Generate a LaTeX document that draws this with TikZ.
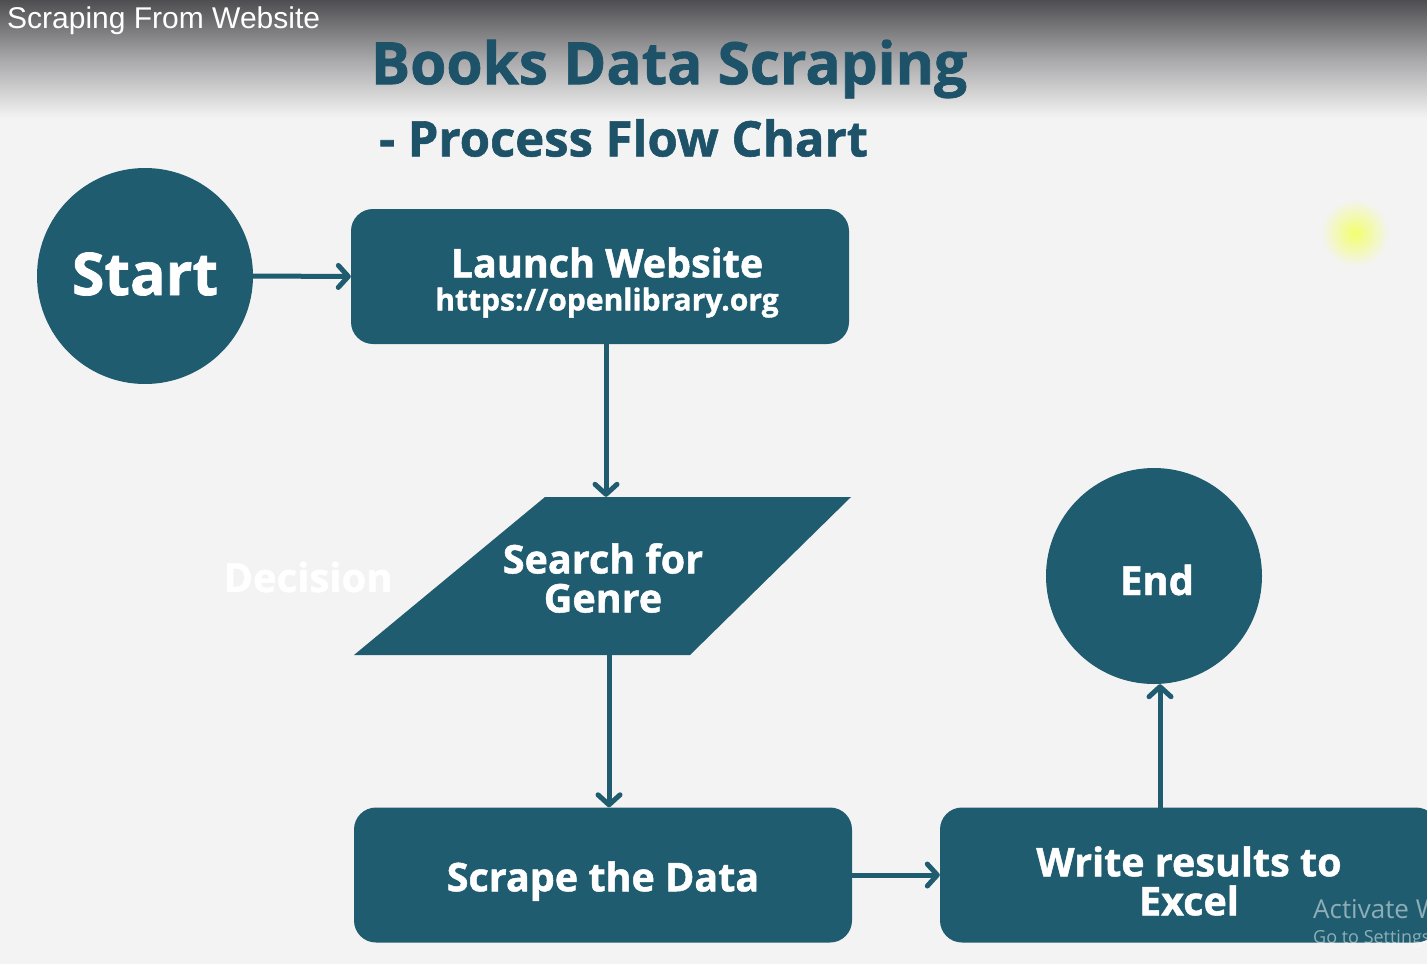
\documentclass[tikz,border=0pt]{standalone}
\usepackage{fontspec}
\setmainfont{Open Sans}
\newfontfamily\arialf{Liberation Sans}
\newfontfamily\heavy{Open Sans}[BoldFeatures={FakeBold=1.2}]
\usetikzlibrary{arrows.meta,shapes.geometric}
\definecolor{bg}{HTML}{F3F3F3}
\definecolor{shp}{HTML}{1F5C70}
\definecolor{ttl}{HTML}{1D5268}
\definecolor{topg}{HTML}{4E4E52}
\definecolor{midg}{HTML}{A8A8AA}
\begin{document}
\begin{tikzpicture}[x=1pt,y=-1pt,
  box/.style={fill=shp, rounded corners=22pt, minimum width=498pt, minimum height=135pt, inner sep=0pt},
  boxtext/.style={text=white, font=\heavy\bfseries\fontsize{39.5}{39}\selectfont, align=center, inner sep=0pt},
  term/.style={circle, fill=shp, minimum size=216pt, inner sep=0pt},
  flow/.style={draw=shp, line width=5pt, line cap=round,
    -{Straight Barb[length=10pt,width=22pt,round]}}]
\clip (0,0) rectangle (1427,964);
\fill[bg] (0,0) rectangle (1427,964);
\shade[top color=topg, bottom color=bg, middle color=midg] (0,0) rectangle (1427,118);
% cursor highlight
\shade[inner color={rgb,255:red,242;green,255;blue,110}, outer color=bg] (1355,233) circle (34pt);
% titles
\node[text=white, anchor=west, font=\arialf\fontsize{30}{30}\selectfont, inner sep=0pt] (toplabel) at (7,21) {Scraping From Website};
\node[text=ttl, font=\heavy\bfseries\fontsize{58.5}{58}\selectfont, inner sep=0pt] (title) at (669,69) {Books Data Scraping};
\node[text=ttl, anchor=west, font=\heavy\bfseries\fontsize{49}{49}\selectfont, inner sep=0pt] (subtitle) at (379,138) {- Process Flow Chart};
% nodes
\node[term] (start) at (145,276) {};
\node[boxtext, font=\heavy\bfseries\fontsize{59}{60}\selectfont] (starttxt) at ([yshift=2pt]start.center) {Start};
\node[box] (launch) at (600,276.5) {};
\node[boxtext] (launchtxt) at ([xshift=7pt,yshift=-6pt]launch.center) {Launch Website\\[-6pt]{\fontsize{30}{30}\selectfont https://openlibrary.org}};
\fill[shp] (545,497) -- (851,497) -- (690,655) -- (354,655) -- cycle;
\node[minimum width=300pt, minimum height=158pt, inner sep=0pt] (search) at (603,576) {};
\node[boxtext] (searchtxt) at ([yshift=-2pt]search.center) {Search for\\Genre};
\node[text=white, font=\heavy\bfseries\fontsize{40}{40}\selectfont, inner sep=0pt] (decision) at (308,577) {Decision};
\node[box] (scrape) at (603,875) {};
\node[boxtext] (scrapetxt) at ([yshift=-6pt]scrape.center) {Scrape the Data};
\node[box] (write) at (1189,875) {};
\node[boxtext] (writetxt) at ([yshift=-6pt]write.center) {Write results to\\Excel};
\node[term] (end) at (1154,576) {};
\node[boxtext, font=\heavy\bfseries\fontsize{40}{40}\selectfont] (endtxt) at ([xshift=3pt,yshift=-4pt]end.center) {End};
% watermark
\node[anchor=west, text=white, text opacity=0.5, font=\fontsize{26}{26}\selectfont, inner sep=0pt] (activate) at (1313,909) {Activate W};
\node[anchor=west, text=white, text opacity=0.5, font=\fontsize{18}{18}\selectfont, inner sep=0pt] (gotoset) at (1313,939) {Go to Settings};
% connectors
\draw[flow] (start.east) -- (launch.west);
\draw[flow] ([xshift=6pt]launch.south) -- ([xshift=3pt]search.north);
\draw[flow] ([xshift=6pt]search.south) -- ([xshift=6pt]scrape.north);
\draw[flow] (scrape.east) -- (write.west);
\draw[flow] ([xshift=6pt]end.south |- write.north) -- ([xshift=6pt]end.south);
\end{tikzpicture}
\end{document}
